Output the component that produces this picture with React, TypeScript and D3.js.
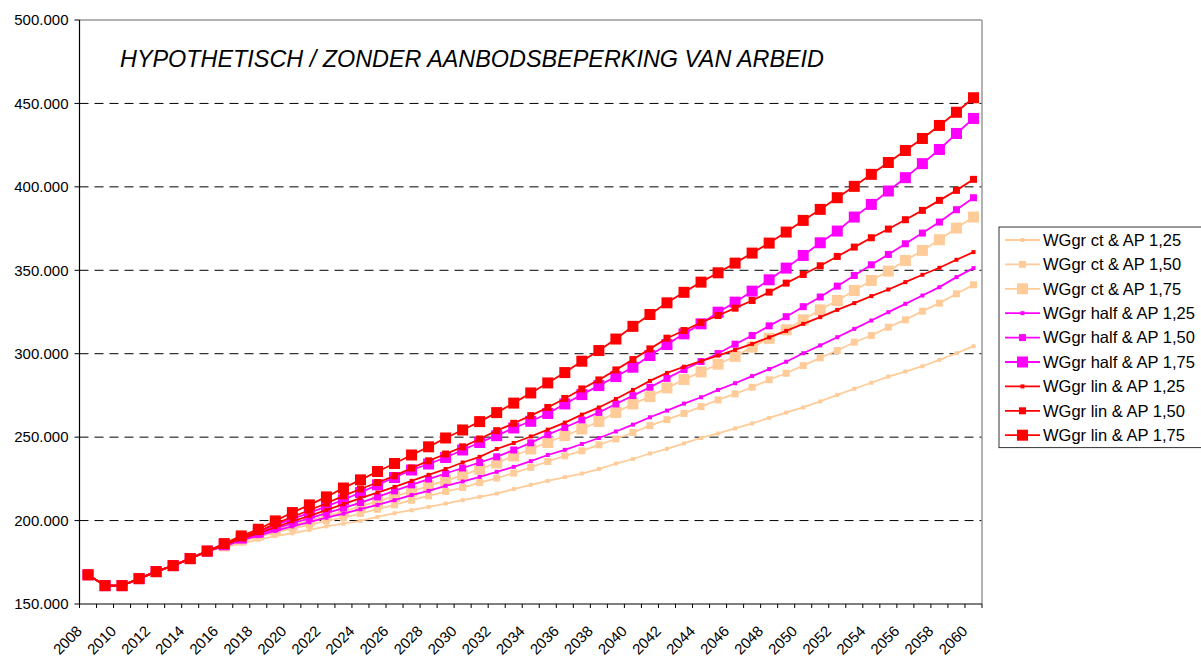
import * as d3 from 'd3';

// values in thousands
const years = d3.range(2008, 2061);
const shared = [167.5, 161.0, 161.0, 165.2, 169.4, 173.0, 177.2, 181.7]; // 2008-2015

const ct125 = [183.8, 186.3, 188.5, 190.7, 192.4, 194.4, 196.5, 198.2, 199.8, 202.2,
  204.4, 206.2, 208.2, 210.2, 212.2, 214.2, 216.2, 218.9, 221.4, 223.8,
  226.0, 228.2, 230.9, 234.2, 236.9, 240.2, 243.0, 246.2, 249.5, 252.2,
  255.2, 258.2, 261.5, 264.7, 267.8, 271.4, 275.3, 279.0, 282.6, 286.3,
  289.3, 292.5, 296.3, 300.3, 304.5];
const ct150 = [184.4, 187.6, 190.4, 192.9, 195.3, 197.4, 199.8, 201.8, 204.2, 206.8,
  209.4, 212.2, 214.8, 217.4, 219.8, 222.8, 225.5, 228.5, 231.9, 235.4,
  238.8, 241.8, 245.4, 248.9, 252.8, 256.9, 260.5, 264.2, 268.3, 272.3,
  275.9, 279.9, 284.4, 288.3, 292.9, 297.5, 301.9, 306.9, 310.9, 315.9,
  320.3, 325.5, 330.3, 335.9, 341.3];
const ct175 = [184.8, 188.3, 191.3, 194.3, 197.2, 199.9, 202.7, 205.5, 208.5, 211.5,
  214.5, 217.5, 220.8, 224.0, 227.3, 230.8, 234.5, 238.7, 242.9, 246.8,
  250.9, 254.9, 259.4, 264.8, 269.9, 274.3, 279.5, 284.5, 289.1, 293.7,
  298.4, 303.9, 309.2, 314.3, 320.3, 326.3, 331.9, 337.9, 343.9, 349.5,
  355.9, 361.9, 368.3, 375.3, 381.9];
const half125 = [184.6, 188.1, 191.0, 193.8, 196.5, 199.0, 201.7, 204.2, 206.8, 209.4,
  212.2, 215.3, 217.8, 220.8, 223.4, 226.2, 229.2, 232.2, 235.6, 239.3,
  242.4, 245.9, 249.5, 253.4, 257.5, 261.9, 265.9, 270.1, 273.9, 278.3,
  282.3, 286.6, 290.8, 295.2, 300.3, 305.0, 309.9, 314.9, 319.9, 324.9,
  329.9, 334.9, 339.9, 345.9, 351.3];
const half150 = [185.0, 188.7, 191.8, 195.2, 198.4, 201.3, 204.5, 207.5, 210.8, 214.2,
  217.8, 221.4, 224.9, 228.2, 231.5, 234.8, 238.2, 242.3, 246.6, 251.5,
  255.8, 260.3, 264.8, 269.9, 274.9, 279.9, 285.2, 290.5, 295.3, 300.1,
  305.7, 310.9, 316.7, 322.2, 328.2, 334.0, 340.5, 346.9, 353.3, 359.5,
  365.9, 372.3, 378.9, 386.3, 393.5];
const half175 = [185.5, 189.5, 193.1, 197.1, 201.0, 204.6, 208.5, 212.5, 216.8, 221.4,
  225.8, 230.3, 233.9, 237.8, 242.3, 246.8, 250.9, 255.5, 259.5, 264.2,
  269.9, 275.5, 280.9, 286.3, 291.9, 298.9, 305.5, 311.9, 317.9, 324.9,
  330.9, 337.5, 344.3, 351.3, 358.9, 366.5, 373.5, 381.9, 389.5, 397.5,
  405.5, 413.9, 422.4, 432.0, 441.0];
const lin125 = [185.2, 189.1, 192.4, 196.0, 199.6, 202.8, 206.3, 209.8, 213.5, 216.8,
  220.2, 223.8, 227.4, 230.9, 234.8, 238.2, 242.9, 246.5, 250.4, 254.5,
  258.7, 263.5, 267.8, 272.9, 278.3, 283.7, 288.5, 292.2, 295.5, 298.9,
  302.3, 305.9, 309.8, 313.7, 317.9, 321.9, 326.3, 330.3, 334.5, 338.5,
  342.9, 347.3, 351.5, 356.3, 360.9];
const lin150 = [185.7, 190.0, 193.6, 198.0, 202.3, 206.2, 210.4, 214.8, 218.9, 222.8,
  226.8, 231.5, 235.8, 239.9, 244.2, 248.9, 253.9, 258.3, 262.9, 267.8,
  273.2, 278.9, 284.3, 290.3, 296.5, 302.9, 309.3, 313.9, 318.7, 322.9,
  327.3, 331.9, 336.9, 342.3, 347.5, 352.7, 358.3, 363.9, 369.5, 374.7,
  380.3, 385.9, 391.9, 397.9, 404.5];
const lin175 = [186.2, 190.8, 194.8, 199.8, 204.8, 209.4, 214.2, 219.5, 224.4, 229.4,
  234.2, 239.3, 244.2, 249.5, 254.3, 259.3, 264.7, 270.4, 276.5, 282.5,
  288.7, 295.5, 301.9, 308.8, 316.4, 323.5, 330.5, 336.8, 342.9, 348.5,
  354.3, 360.3, 366.3, 372.9, 379.9, 386.5, 393.5, 400.3, 407.5, 414.6,
  421.8, 429.0, 436.8, 444.7, 453.4];

const seriesNames = [
  'WGgr ct & AP 1,25', 'WGgr ct & AP 1,50', 'WGgr ct & AP 1,75',
  'WGgr half & AP 1,25', 'WGgr half & AP 1,50', 'WGgr half & AP 1,75',
  'WGgr lin & AP 1,25', 'WGgr lin & AP 1,50', 'WGgr lin & AP 1,75',
];
const seriesValues = [ct125, ct150, ct175, half125, half150, half175, lin125, lin150, lin175];
const seriesColors = ['#FFCC99', '#FFCC99', '#FFCC99', '#FF00FF', '#FF00FF', '#FF00FF', '#FF0000', '#FF0000', '#FF0000'];
const markerSizes = [4, 7, 11, 4, 7, 11, 4, 7, 11];
const yTicks = [150, 200, 250, 300, 350, 400, 450, 500];
const title = 'HYPOTHETISCH / ZONDER AANBODSBEPERKING VAN ARBEID';

const W = 1201;
const H = 657;
const P = { left: 79.5, right: 982, top: 20, bottom: 604 };
const FONT = 'Arial, "Liberation Sans", sans-serif';

const nl = d3.formatLocale({ decimal: ',', thousands: '.', grouping: [3], currency: ['€', ''] });
const fmt = nl.format(',d');

export default function App() {
  const x = d3.scaleBand<number>().domain(years).range([P.left, P.right]).padding(0);
  const cx = (yr: number) => (x(yr) ?? 0) + x.bandwidth() / 2;
  const y = d3.scaleLinear().domain([150, 500]).range([P.bottom, P.top]);

  const series = seriesValues.map((vals, i) => ({
    name: seriesNames[i],
    color: seriesColors[i],
    size: markerSizes[i],
    data: years.map((yr, j) => ({ yr, v: j < shared.length ? shared[j] : vals[j - shared.length] })),
  }));

  const line = d3.line<{ yr: number; v: number }>().x((d) => cx(d.yr)).y((d) => y(d.v));

  const tickEdges = d3.range(years.length + 1).map((i) => P.left + i * x.bandwidth());
  const labelYears = years.filter((yr) => (yr - 2008) % 2 === 0);

  const legX = 999;
  const legY = 227;
  const rowH = 24.4;

  return (
    <svg width={W} height={H} style={{ position: 'absolute', left: 0, top: 0, background: '#fff' }}
      fontFamily={FONT}>
      <rect x={0} y={0} width={W} height={H} fill="#fff" />

      {/* gridlines */}
      {yTicks.filter((t) => t > 150 && t < 500).map((t) => (
        <line key={t} x1={P.left} x2={P.right} y1={y(t)} y2={y(t)}
          stroke="#000" strokeWidth={1} strokeDasharray="9,6" />
      ))}

      {/* plot frame: top + right grey */}
      <line x1={P.left} x2={P.right} y1={P.top} y2={P.top} stroke="#999" strokeWidth={1.5} />
      <line x1={P.right} x2={P.right} y1={P.top} y2={P.bottom} stroke="#999" strokeWidth={1.5} />

      {/* y axis */}
      <line x1={P.left} x2={P.left} y1={P.top} y2={P.bottom} stroke="#000" strokeWidth={1.2} />
      {yTicks.map((t) => (
        <g key={t}>
          <line x1={P.left - 5} x2={P.left} y1={y(t)} y2={y(t)} stroke="#000" />
          <text x={P.left - 11} y={y(t)} dy="0.35em" textAnchor="end" fontSize={15} fill="#000">
            {fmt(t * 1000)}
          </text>
        </g>
      ))}

      {/* x axis */}
      <line x1={P.left} x2={P.right} y1={P.bottom} y2={P.bottom} stroke="#000" strokeWidth={1.2} />
      {tickEdges.map((tx, i) => (
        <line key={i} x1={tx} x2={tx} y1={P.bottom} y2={P.bottom + 4} stroke="#000" />
      ))}
      {labelYears.map((yr) => (
        <text key={yr} transform={`translate(${cx(yr) - 5},${P.bottom + 28}) rotate(-45)`}
          textAnchor="end" fontSize={15} fill="#000">
          {yr}
        </text>
      ))}

      {/* series */}
      {series.map((s) => (
        <g key={s.name}>
          <path d={line(s.data) ?? ''} fill="none" stroke={s.color} strokeWidth={1.8} />
          {s.data.map((d) => (
            <rect key={d.yr} x={cx(d.yr) - s.size / 2} y={y(d.v) - s.size / 2}
              width={s.size} height={s.size} fill={s.color} />
          ))}
        </g>
      ))}

      {/* title */}
      <text x={120} y={67} fontSize={23.4} fontStyle="italic" fill="#000">{title}</text>

      {/* legend */}
      <rect x={legX} y={legY} width={230} height={rowH * 9 + 1} fill="#fff" stroke="#333" strokeWidth={1} />
      {series.map((s, i) => {
        const ly = legY + 13 + i * rowH;
        return (
          <g key={s.name}>
            <line x1={legX + 6} x2={legX + 41} y1={ly} y2={ly} stroke={s.color} strokeWidth={1.8} />
            <rect x={legX + 23.5 - s.size / 2} y={ly - s.size / 2} width={s.size} height={s.size} fill={s.color} />
            <text x={legX + 44} y={ly} dy="0.35em" fontSize={16.5} fill="#000">{s.name}</text>
          </g>
        );
      })}
    </svg>
  );
}
